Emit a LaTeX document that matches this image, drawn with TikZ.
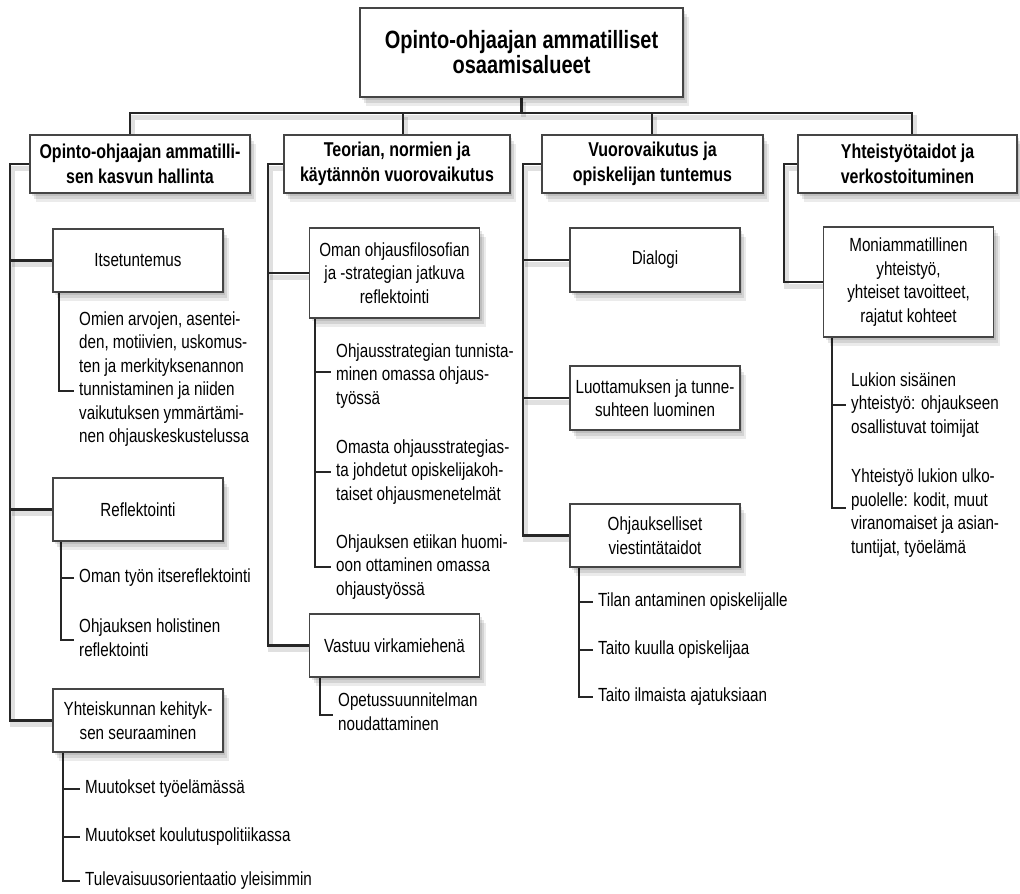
\documentclass[tikz,border=0pt]{standalone}
\usepackage{fontspec}
\setmainfont{Liberation Sans}[FakeStretch=0.8]
\usetikzlibrary{shadows}
\pgfdeclarelayer{bg}
\pgfsetlayers{bg,main}
\definecolor{linec}{HTML}{262626}
\definecolor{boxc}{HTML}{454545}
\begin{document}
\begin{tikzpicture}[x=1pt,y=-1pt,
  every node/.style={font=\fontsize{19}{23.5}\selectfont, text=black},
  sh/.style={
    general shadow={fill=black,opacity=0.10,shadow xshift=2pt,shadow yshift=-3pt},
    general shadow={fill=black,opacity=0.10,shadow xshift=4pt,shadow yshift=-6pt},
    general shadow={fill=black,opacity=0.08,shadow xshift=6pt,shadow yshift=-9pt}},
  topbox/.style={sh, draw=boxc, line width=1.4pt, fill=white, align=center,
    minimum width=323, minimum height=89, font=\bfseries\fontsize{25}{25}\selectfont},
  headbox/.style={sh, draw=boxc, line width=1.4pt, fill=white, align=center,
    minimum height=58, font=\bfseries\fontsize{20}{25}\selectfont},
  subbox/.style={sh, draw=boxc, line width=1.3pt, fill=white, align=center,
    minimum width=170, font=\fontsize{19}{23.5}\selectfont},
  item/.style={anchor=west, align=left, inner xsep=5pt, inner ysep=0pt},
  mainline/.style={draw=linec, line width=2.2pt,
    preaction={draw=black, opacity=0.12, line width=5pt, transform canvas={xshift=2pt,yshift=-4pt}}},
  subline/.style={draw=linec, line width=1.3pt},
]
\useasboundingbox (0,0) rectangle (1020,894);

% top and headers
\node[topbox] (T) at (521.5,52.5) {Opinto-ohjaajan ammatilliset\\osaamisalueet};
\node[headbox, minimum width=220] (H1) at (140,164) {Opinto-ohjaajan ammatilli-\\sen kasvun hallinta};
\node[headbox, minimum width=226] (H2) at (397,164) {Teorian, normien ja\\käytännön vuorovaikutus};
\node[headbox, minimum width=221] (H3) at (652.5,164) {Vuorovaikutus ja\\opiskelijan tuntemus};
\node[headbox, minimum width=219] (H4) at (907.5,164) {Yhteistyötaidot ja\\verkostoituminen};

% sub boxes
\node[subbox, minimum height=63] (I1) at (138,260.5) {Itsetuntemus};
\node[subbox, minimum height=63] (R1) at (138,509.5) {Reflektointi};
\node[subbox, minimum height=63] (Y1) at (138,720.5) {Yhteiskunnan kehityk-\\sen seuraaminen};
\node[subbox, minimum height=90] (O2) at (394.5,273) {Oman ohjausfilosofian\\ja -strategian jatkuva\\reflektointi};
\node[subbox, minimum height=63] (V2) at (394.5,645.5) {Vastuu virkamiehenä};
\node[subbox, minimum height=64] (D3) at (655,260) {Dialogi};
\node[subbox, minimum height=64] (L3) at (655,398) {Luottamuksen ja tunne-\\suhteen luominen};
\node[subbox, minimum height=63] (O3) at (655,535.5) {Ohjaukselliset\\viestintätaidot};
\node[subbox, minimum height=110] (M4) at (908.5,282) {Moniammatillinen\\yhteistyö,\\yhteiset tavoitteet,\\rajatut kohteet};

% items
\node[item] (a) at (74,379) {Omien arvojen, asentei-\\den, motiivien, uskomus-\\ten ja merkityksenannon\\tunnistaminen ja niiden\\vaikutuksen ymmärtämi-\\nen ohjauskeskustelussa};
\node[item] (r1) at (74,578) {Oman työn itsereflektointi};
\node[item] (r2) at (74,637.5) {Ohjauksen holistinen\\reflektointi};
\node[item] (y1) at (80,789) {Muutokset työelämässä};
\node[item] (y2) at (80,837) {Muutokset koulutuspolitiikassa};
\node[item] (y3) at (80,881) {Tulevaisuusorientaatio yleisimmin};
\node[item] (o1) at (331,376) {Ohjausstrategian tunnista-\\minen omassa ohjaus-\\työssä};
\node[item] (o2) at (331,472) {Omasta ohjausstrategias-\\ta johdetut opiskelijakoh-\\taiset ohjausmenetelmät};
\node[item] (o3) at (331,567) {Ohjauksen etiikan huomi-\\oon ottaminen omassa\\ohjaustyössä};
\node[item] (v1) at (333,711.5) {Opetussuunnitelman\\noudattaminen};
\node[item] (f1) at (593,602) {Tilan antaminen opiskelijalle};
\node[item] (f2) at (593,650) {Taito kuulla opiskelijaa};
\node[item] (f3) at (593,697) {Taito ilmaista ajatuksiaan};
\node[item] (m1) at (846,405) {Lukion sisäinen\\yhteistyö: ohjaukseen\\osallistuvat toimijat};
\node[item] (m2) at (846,513) {Yhteistyö lukion ulko-\\puolelle: kodit, muut\\viranomaiset ja asian-\\tuntijat, työelämä};

% coordinates
\coordinate (b1) at (130,113);
\coordinate (b2) at (403,113);
\coordinate (b3) at (652,113);
\coordinate (b4) at (912,113);
\coordinate (c1) at (10,0);
\coordinate (c2) at (268,0);
\coordinate (c3) at (523,0);
\coordinate (c4) at (784,0);
\coordinate (sa) at (59,0);
\coordinate (sb) at (61,0);
\coordinate (sc) at (63,0);
\coordinate (sd) at (315,0);
\coordinate (se) at (320,0);
\coordinate (sf) at (579,0);
\coordinate (sg) at (832,0);

\begin{pgfonlayer}{bg}
% main tree
\draw[mainline] (T.south) -- (T.south |- b1);
\draw[mainline] (H1.north -| b1) -- (b1) -- (b4) -- (H4.north -| b4);
\draw[mainline] (H2.north -| b2) -- (b2);
\draw[mainline] (H3.north -| b3) -- (b3);
% column spines
\draw[mainline] (H1.west) -| (c1 |- Y1.west) -- (Y1.west);
\draw[mainline] (c1 |- I1.west) -- (I1.west);
\draw[mainline] (c1 |- R1.west) -- (R1.west);
\draw[mainline] (H2.west) -| (c2 |- V2.west) -- (V2.west);
\draw[mainline] (c2 |- O2.west) -- (O2.west);
\draw[mainline] (H3.west) -| (c3 |- O3.west) -- (O3.west);
\draw[mainline] (c3 |- D3.west) -- (D3.west);
\draw[mainline] (c3 |- L3.west) -- (L3.west);
\draw[mainline] (H4.west) -| (c4 |- M4.west) -- (M4.west);
% item connectors
\draw[subline] (sa |- I1.south) |- ([yshift=-12pt]a.west);
\draw[subline] (sb |- R1.south) |- ([yshift=-2.5pt]r2.west);
\draw[subline] (sb |- r1.west) -- (r1.west);
\draw[subline] (sc |- Y1.south) |- (y3.west);
\draw[subline] (sc |- y1.west) -- (y1.west);
\draw[subline] (sc |- y2.west) -- (y2.west);
\draw[subline] (sd |- O2.south) |- (o3.west);
\draw[subline] (sd |- o1.west) ++(0,4pt) -- ([yshift=4pt]o1.west);
\draw[subline] (sd |- o2.west) -- (o2.west);
\draw[subline] (se |- V2.south) |- ([yshift=-3.5pt]v1.west);
\draw[subline] (sf |- O3.south) |- (f3.west);
\draw[subline] (sf |- f1.west) -- (f1.west);
\draw[subline] (sf |- f2.west) -- (f2.west);
\draw[subline] (sg |- M4.south) |- ([yshift=5pt]m2.west);
\draw[subline] (sg |- m1.west) -- (m1.west);
\end{pgfonlayer}
\end{tikzpicture}
\end{document}
